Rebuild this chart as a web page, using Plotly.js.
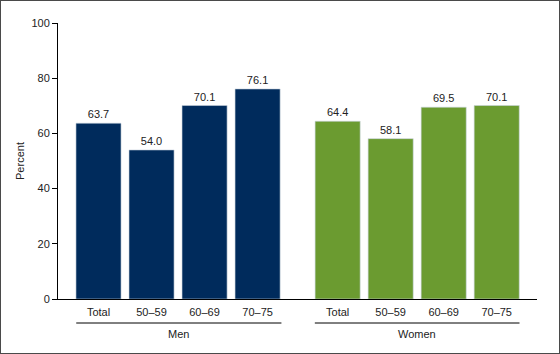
<!DOCTYPE html>
<html>
<head>
<meta charset="utf-8">
<script src="https://cdn.plot.ly/plotly-3.0.1.min.js"></script>
<style>
html,body{margin:0;padding:0;background:#fff;}
#wrap{width:560px;height:354px;box-sizing:border-box;border:1px solid #4a4a4a;}
#chart{width:558px;height:352px;}
</style>
</head>
<body>
<div id="wrap"><div id="chart"></div></div>
<script>
var categories = ["Total", "50–59", "60–69", "70–75"];
var groups = ["Men", "Women"];
var menValues = [63.7, 54.0, 70.1, 76.1];
var womenValues = [64.4, 58.1, 69.5, 70.1];
var yTicks = [0, 20, 40, 60, 80, 100];

var menX = [0, 1, 2, 3];
var womenX = [4.51, 5.51, 6.51, 7.51];

var font = "Liberation Sans, Arial, sans-serif";

function bar(x, y, color) {
  return {
    type: "bar", x: x, y: y, width: 0.85,
    marker: {color: color, line: {color: "#c9d3de", width: 0.6}},
    text: y.map(function(v){return v.toFixed(1);}),
    textposition: "outside",
    textfont: {family: font, size: 11, color: "#222"},
    cliponaxis: false, hoverinfo: "skip", showlegend: false
  };
}

var data = [bar(menX, menValues, "#002b5c"), bar(womenX, womenValues, "#6b9b30")];

var layout = {
  width: 558, height: 352,
  margin: {l: 57, r: 22, t: 22, b: 54},
  paper_bgcolor: "#fff", plot_bgcolor: "#fff",
  font: {family: font, size: 11, color: "#222"},
  bargap: 0,
  xaxis: {
    range: [-0.764, 8.27],
    tickvals: menX.concat(womenX),
    ticktext: categories.concat(categories),
    showline: true, linecolor: "#000", linewidth: 1,
    ticks: "", showgrid: false, zeroline: false,
    ticklabelstandoff: 3,
    tickfont: {family: font, size: 11, color: "#222"}
  },
  yaxis: {
    range: [0, 100], tickvals: yTicks,
    showline: true, linecolor: "#000", linewidth: 1,
    ticks: "outside", ticklen: 5, tickcolor: "#000",
    showgrid: false, zeroline: false,
    tickfont: {family: font, size: 11, color: "#222"},
    title: {text: "Percent", font: {family: font, size: 11, color: "#222"}, standoff: 4}
  },
  shapes: [
    {type: "line", xref: "x", yref: "paper", x0: -0.42, x1: 3.45, y0: -0.087, y1: -0.087, line: {color: "#000", width: 1}},
    {type: "line", xref: "x", yref: "paper", x0: 4.08, x1: 7.94, y0: -0.087, y1: -0.087, line: {color: "#000", width: 1}}
  ],
  annotations: [
    {xref: "x", yref: "paper", x: 1.5, y: -0.127, text: groups[0], showarrow: false, yanchor: "middle", font: {family: font, size: 11, color: "#222"}},
    {xref: "x", yref: "paper", x: 6.01, y: -0.127, text: groups[1], showarrow: false, yanchor: "middle", font: {family: font, size: 11, color: "#222"}}
  ]
};

Plotly.newPlot("chart", data, layout, {displayModeBar: false, staticPlot: true});
</script>
</body>
</html>
